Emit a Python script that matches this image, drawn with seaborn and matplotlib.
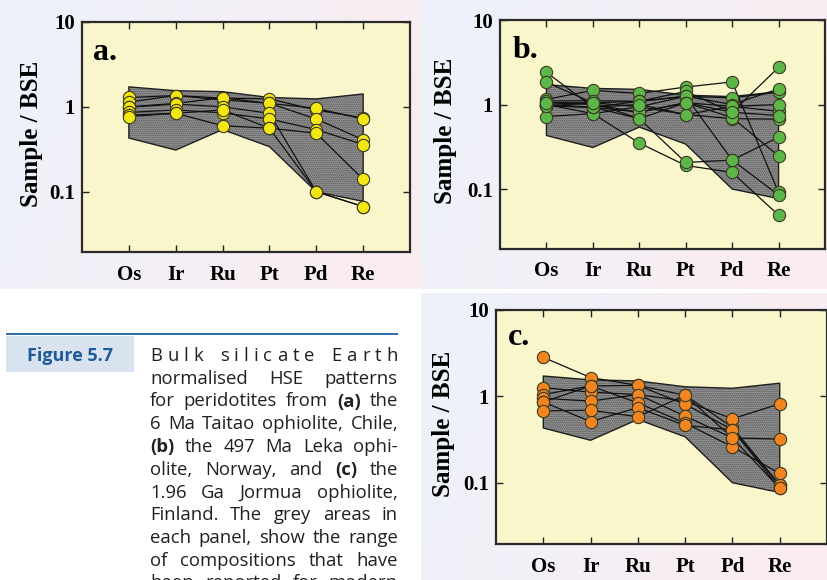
import numpy as np
import pandas as pd
import matplotlib
matplotlib.use("Agg")
import matplotlib.pyplot as plt
import seaborn as sns

# ---------------------------------------------------------------- data
elements = ["Os", "Ir", "Ru", "Pt", "Pd", "Re"]
y_ticks = [0.1, 1, 10]
y_tick_labels = ["0.1", "1", "10"]

# range reported for modern abyssal peridotites (grey field)
field_upper = [1.72, 1.55, 1.51, 1.29, 1.24, 1.42]
field_lower = [0.43, 0.31, 0.54, 0.34, 0.10, 0.077]

# (a) 6 Ma Taitao ophiolite, Chile  (Os, Ir, Ru, Pt, Pd, Re)
taitao_1 = [1.29, 1.36, 1.27, 1.24, 0.92, 0.74]
taitao_2 = [1.14, 1.36, 1.21, 1.10, 0.96, 0.72]
taitao_3 = [1.00, 1.10, 1.28, 1.10, 0.72, 0.41]
taitao_4 = [0.99, 1.08, 1.00, 0.84, 0.10, 0.067]
taitao_5 = [0.86, 0.92, 0.85, 0.72, 0.54, 0.36]
taitao_6 = [0.80, 0.84, 0.92, 0.56, 0.49, 0.14]
taitao_7 = [0.77, 0.84, 0.60, 0.56, 0.10, 0.067]

# (b) 497 Ma Leka ophiolite, Norway
leka_1 = [2.40, 0.93, 0.81, 1.05, 0.95, 0.83]
leka_2 = [1.83, 1.05, 0.94, 1.25, 1.20, 1.40]
leka_3 = [1.15, 1.47, 1.35, 1.61, 1.85, 0.091]
leka_4 = [1.10, 1.11, 1.09, 1.43, 0.81, 2.75]
leka_5 = [1.00, 0.78, 0.35, 0.19, 0.157, 0.049]
leka_6 = [0.96, 0.93, 0.68, 0.206, 0.22, 0.085]
leka_7 = [0.96, 1.05, 1.09, 1.25, 0.22, 0.41]
leka_8 = [0.72, 0.78, 0.94, 0.76, 0.68, 0.67]
leka_9 = [1.00, 0.93, 1.09, 1.25, 1.00, 1.53]
leka_10 = [1.05, 1.00, 0.81, 1.05, 0.70, 0.246]
leka_11 = [0.96, 0.93, 1.00, 0.76, 0.95, 1.00]
leka_12 = [1.05, 1.05, 0.68, 1.05, 0.81, 0.74]

# (c) 1.96 Ga Jormua ophiolite, Finland
jormua_1 = [2.83, 1.65, 1.34, 1.03, 0.44, 0.094]
jormua_2 = [1.26, 1.12, 1.05, 0.88, 0.55, 0.82]
jormua_3 = [1.05, 1.32, 1.34, 0.81, 0.41, 0.094]
jormua_4 = [0.95, 0.88, 1.05, 0.59, 0.33, 0.32]
jormua_5 = [0.86, 1.32, 0.84, 0.49, 0.26, 0.128]
jormua_6 = [0.86, 0.51, 0.74, 0.46, 0.41, 0.086]
jormua_7 = [0.68, 0.69, 0.58, 1.03, 0.33, 0.086]

panels = [
    ("a.", [taitao_1, taitao_2, taitao_3, taitao_4, taitao_5, taitao_6, taitao_7], "#f4e612"),
    ("b.", [leka_1, leka_2, leka_3, leka_4, leka_5, leka_6, leka_7, leka_8,
            leka_9, leka_10, leka_11, leka_12], "#5cb748"),
    ("c.", [jormua_1, jormua_2, jormua_3, jormua_4, jormua_5, jormua_6, jormua_7], "#f2851f"),
]

# ---------------------------------------------------------------- figure
W, H = 827, 580
fig = plt.figure(figsize=(W / 100, H / 100), dpi=100)
fig.patch.set_facecolor("white")

def px_axes(x0, y0, x1, y1, **kw):
    return fig.add_axes([x0 / W, 1 - y1 / H, (x1 - x0) / W, (y1 - y0) / H], **kw)

# soft tinted backdrop behind each panel
bg = px_axes(0, 0, W, H, zorder=-10)
bg.set_xlim(0, W)
bg.set_ylim(H, 0)
bg.axis("off")
blue = np.array([236, 242, 251]) / 255
pink = np.array([252, 236, 240]) / 255
for (x0, y0, x1, y1) in [(0, 0, 421, 289), (421, 0, W, 289), (421, 293, W, H)]:
    gx, gy = np.meshgrid(np.linspace(0, 1, 200), np.linspace(0, 1, 150))
    t = np.clip(0.8 * gx + 0.2 * gy, 0, 1)[..., None]
    img = blue * (1 - t) + pink * t
    bg.imshow(img, extent=(x0, x1, y1, y0), aspect="auto", interpolation="bilinear")

serif = "Liberation Serif"
plt.rcParams["hatch.linewidth"] = 0.9

axes_px = [(82, 22, 410, 252), (500, 20, 825, 249), (496, 310, 827, 544)]
label_x = [-0.119, -0.132, -0.124]
letter_pos = [(0.034, 0.835), (0.040, 0.834), (0.036, 0.85)]

xpos = np.arange(1, len(elements) + 1)

for (letter, samples, colour), box, lx, lp in zip(panels, axes_px, label_x, letter_pos):
    ax = px_axes(*box)
    ax.set_facecolor("#faf6cc")

    rows = []
    for i, s in enumerate(samples):
        for j, v in enumerate(s):
            rows.append({"sample": i, "pos": xpos[j], "value": v})
    df = pd.DataFrame(rows)

    ax.set_yscale("log")

    # grey reference field
    ax.fill_between(xpos, field_lower, field_upper, facecolor="#a4a4a4",
                    edgecolor="#4a4a4a", hatch="........", linewidth=0, zorder=1)
    ax.fill_between(xpos, field_lower, field_upper, facecolor="none",
                    edgecolor="#1e1e1e", linewidth=1.0, zorder=1.5)

    sns.lineplot(data=df, x="pos", y="value", units="sample", estimator=None,
                 sort=False, color="#101010", linewidth=0.9, legend=False,
                 ax=ax, zorder=2)
    sns.scatterplot(data=df, x="pos", y="value", color=colour,
                    edgecolor="#3c3a24", linewidth=0.8, s=78, legend=False,
                    ax=ax, zorder=3)

    ax.set_xlim(0, 7)
    ax.set_ylim(0.0195, 10)
    ax.set_xticks(xpos)
    ax.set_xticklabels(elements)
    ax.set_yticks(y_ticks)
    ax.set_yticklabels(y_tick_labels)
    ax.minorticks_off()
    ax.set_xlabel("")
    ax.set_ylabel("Sample / BSE", fontsize=18, fontweight="bold", family=serif)
    ax.yaxis.set_label_coords(lx, 0.515)
    ax.tick_params(direction="in", length=5, width=1.0, top=True, right=True,
                   color="#222222", labelsize=15)
    ax.tick_params(axis="x", pad=9)
    ax.tick_params(axis="y", pad=5)
    for lab in ax.get_xticklabels() + ax.get_yticklabels():
        lab.set_fontfamily(serif)
        lab.set_fontweight("bold")
    for sp in ax.spines.values():
        sp.set_linewidth(1.6)
        sp.set_color("#2a2a2a")

    ax.text(lp[0], lp[1], letter, transform=ax.transAxes, fontsize=23,
            fontweight="bold", family=serif, va="baseline", ha="left")

# ---------------------------------------------------------------- caption
ov = px_axes(0, 0, W, H, zorder=5)
ov.set_xlim(0, W)
ov.set_ylim(H, 0)
ov.axis("off")
ov.plot([6, 398], [334, 334], color="#2d6cab", lw=1.4, solid_capstyle="butt")
ov.add_patch(plt.Rectangle((6, 336), 128, 36, facecolor="#d9e2ef", edgecolor="none"))

sans = "Open Sans"
ov.text(70, 361, "Figure 5.7", fontsize=13, fontweight="bold",
        family=sans, color="#1f5b99", ha="center", va="baseline", zorder=10)

caption = [
    [("Bulk silicate Earth", False)],
    [("normalised HSE patterns", False)],
    [("for peridotites from", False), ("(a)", True), ("the", False)],
    [("6 Ma Taitao ophiolite, Chile,", False)],
    [("(b)", True), ("the 497 Ma Leka ophi-", False)],
    [("olite, Norway, and", False), ("(c)", True), ("the", False)],
    [("1.96 Ga Jormua ophiolite,", False)],
    [("Finland. The grey areas in", False)],
    [("each panel, show the range", False)],
    [("of compositions that have", False)],
    [("been reported for modern", False)],
]

renderer = fig.canvas.get_renderer()
cap_size = 13.3
cap_color = "#231f20"
x_left, x_right = 150, 398
base0, step = 361, 22.75


def width_of(s, bold):
    t = ov.text(0, 0, s, fontsize=cap_size, family=sans,
                fontweight="bold" if bold else "normal")
    w = t.get_window_extent(renderer).width
    t.remove()
    return w


for k, line in enumerate(caption):
    yb = base0 + k * step
    tokens = []
    if k == 0:
        # letter-spaced line: every character is placed on its own
        words = line[0][0].split(" ")
        for wi, w in enumerate(words):
            for ci, ch in enumerate(w):
                weight = 0 if (wi == 0 and ci == 0) else (1 if ci > 0 else 3.2)
                tokens.append((ch, False, weight))
    else:
        first = True
        for seg, bold in line:
            for w in seg.split(" "):
                tokens.append((w, bold, 0 if first else 1))
                first = False
    widths = [width_of(t, b) for t, b, _ in tokens]
    total_w = sum(t[2] for t in tokens)
    gap = (x_right - x_left - sum(widths)) / total_w if total_w else 0
    x = x_left
    for (t, b, wgt), w in zip(tokens, widths):
        x += wgt * gap
        ov.text(x, yb, t, fontsize=cap_size, family=sans, color=cap_color,
                fontweight="bold" if b else "normal", ha="left", va="baseline",
                zorder=10)
        x += w

fig.savefig("out.png", dpi=100)
